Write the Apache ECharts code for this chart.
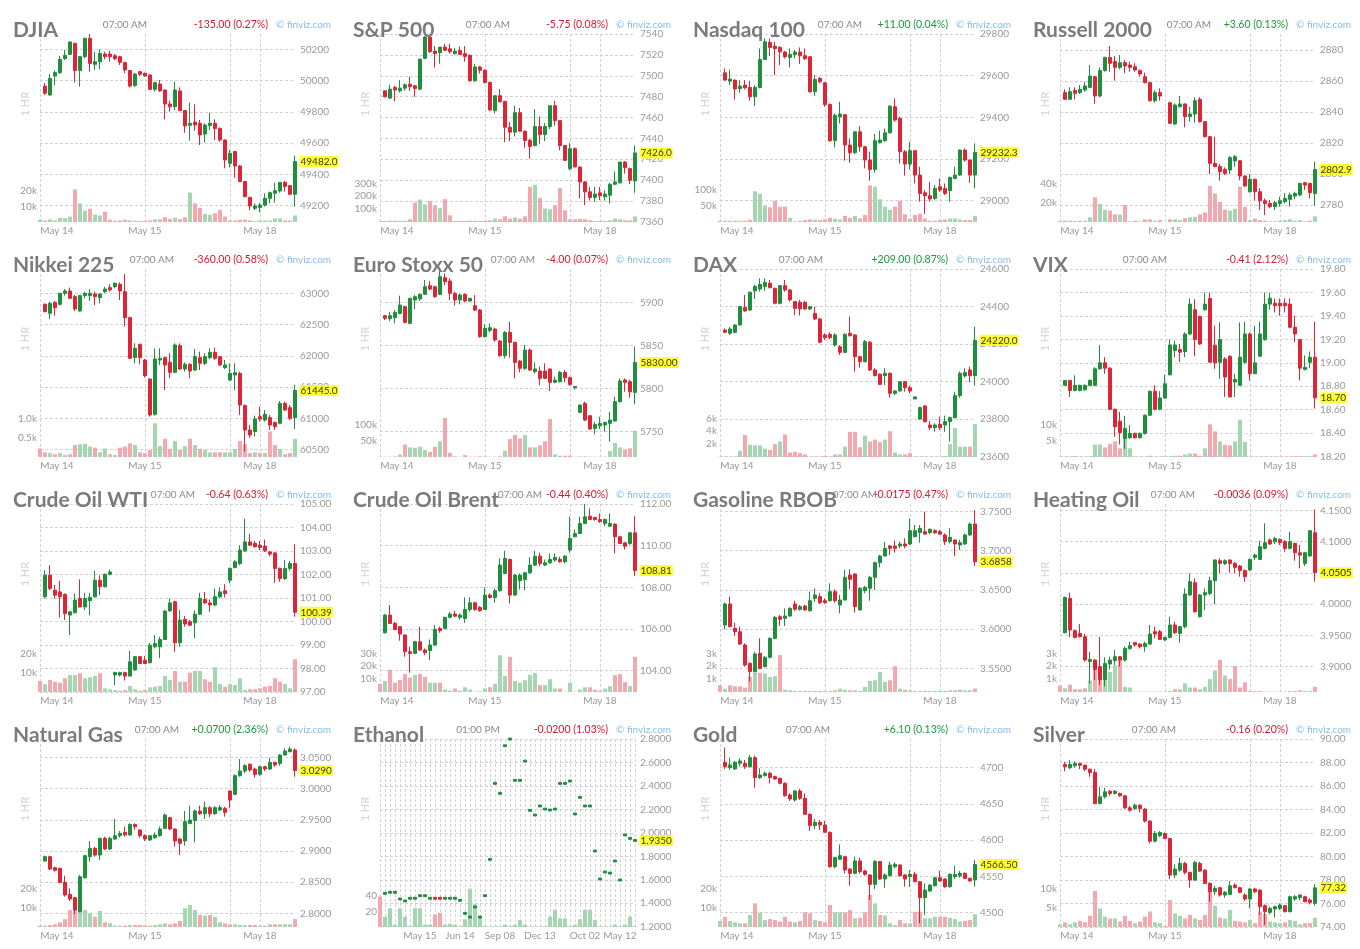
<!DOCTYPE html>
<html><head><meta charset="utf-8">
<script src="https://cdn.jsdelivr.net/npm/echarts@6.0.0/dist/echarts.min.js"></script>
<style>html,body{margin:0;padding:0;background:#fff}#c{width:1360px;height:949px}</style>
</head><body><div id="c"></div>
<script>
// ---------- x-axis tick labels ----------
const hourLabels = ['May 14', 'May 15', 'May 18'];
const hourLabelIdx = [0, 21, 44];
const hourGridIdx = [0, 21, 38, 44];
const ethLabels = ['May 15', 'Jun 14', 'Sep 08', 'Dec 13', 'Oct 02', 'May 12'];
const ethLabelIdx = [8, 16, 24, 32, 41, 48];

// ---------- candles: [open, close, low, high] ----------
const djiaCandles = [
[49965,49919,49908,49983],[49908,50014,49902,50042],[50029,50051,49972,50064],[50051,50136,50042,50157],[50140,50162,50132,50196],
[50168,50247,50164,50249],[50238,50064,49987,50243],[50064,50153,49961,50157],[50153,50270,50142,50275],[50270,50110,50057,50298],
[50104,50121,50068,50185],[50121,50174,50072,50200],[50170,50153,50136,50185],[50170,50153,50121,50191],[50159,50140,50132,50170],
[50153,50117,50100,50159],[50115,50068,50047,50121],[50064,49965,49957,50068],[49968,50042,49961,50047],[50057,50040,50029,50064],
[50047,50029,50025,50051],[50036,49944,49940,50040],[49944,49987,49929,49993],[49978,49934,49929,50004],[49940,49850,49752,49944],
[49850,49833,49801,49872],[49833,49940,49812,49993],[49934,49808,49808,49957],[49808,49710,49667,49812],[49714,49727,49616,49859],
[49735,49716,49680,49848],[49727,49652,49588,49748],[49658,49716,49603,49727],[49712,49727,49684,49795],[49727,49693,49620,49752],
[49695,49620,49609,49699],[49620,49492,49439,49624],[49471,49535,49445,49556],[49546,49454,49379,49546],[49454,49354,49354,49460],
[49354,49258,49253,49358],[49253,49198,49172,49258],[49183,49198,49172,49215],[49189,49204,49157,49219],[49204,49247,49194,49279],
[49247,49283,49215,49290],[49279,49296,49219,49347],[49294,49349,49283,49349],[49349,49322,49290,49358],[49328,49273,49268,49332],
[49273,49482,49194,49520]];
const djiaVolume = [1.5,1.0,1.7,1.0,2.7,2.5,3.5,21,12,7.3,8.5,4.8,4.2,6.7,1.5,0.8,1.0,1.5,1.0,0.8,0.6,0.8,1.0,1.7,1.7,3.1,1.9,2.7,1.9,3.1,19,12,9.2,5.2,4.8,5.6,7.9,3.5,1.0,1.0,1.5,1.5,1.0,0.6,1.0,1.0,1.0,2.3,2.3,1.0,1.0,4.2];

const spxCandles = [
[7485.6,7479.9,7479.3,7486.0],[7478.6,7487.2,7477.7,7491.4],[7488.8,7486.3,7475.5,7490.4],[7485.6,7488.2,7484.0,7495.8],[7488.2,7491.4,7485.6,7492.6],
[7492.0,7489.5,7485.6,7499.0],[7490.4,7487.9,7479.9,7491.4],[7487.2,7515.9,7486.3,7516.8],[7516.8,7537.2,7515.9,7538.0],[7537.2,7523.2,7522.2,7539.7],
[7523.8,7521.3,7507.9,7528.6],[7522.2,7527.6,7511.7,7527.6],[7527.6,7524.5,7523.8,7530.8],[7526.0,7523.2,7521.3,7530.8],[7521.3,7523.8,7520.6,7527.0],
[7524.5,7520.6,7520.0,7528.0],[7521.3,7518.7,7513.6,7528.6],[7519.7,7495.2,7494.5,7520.6],[7495.2,7508.5,7494.5,7511.7],[7508.5,7505.4,7502.2,7509.5],
[7505.4,7493.6,7492.6,7506.3],[7493.6,7467.2,7466.5,7494.5],[7466.5,7480.9,7464.0,7481.5],[7480.9,7475.1,7474.5,7487.2],[7475.5,7450.6,7436.3,7476.0],
[7450.6,7445.9,7437.3,7455.4],[7445.9,7464.6,7441.7,7471.3],[7464.6,7446.8,7446.8,7469.1],[7446.8,7437.9,7430.9,7447.5],[7437.9,7432.2,7420.4,7439.5],
[7433.1,7451.3,7432.2,7468.1],[7451.3,7443.6,7434.7,7460.8],[7443.6,7451.3,7437.3,7454.5],[7451.3,7471.3,7449.0,7471.3],[7471.3,7457.0,7452.2,7476.0],
[7457.0,7433.1,7428.4,7457.6],[7433.1,7418.8,7418.8,7433.8],[7410.9,7430.0,7409.3,7435.4],[7430.0,7412.4,7412.4,7431.5],[7412.4,7398.1,7382.2,7413.0],
[7398.1,7388.6,7375.9,7399.0],[7388.6,7383.2,7380.0,7393.3],[7383.2,7386.4,7379.0,7393.3],[7387.6,7384.8,7380.6,7393.3],[7383.8,7386.4,7380.0,7390.0],
[7385.4,7395.9,7377.4,7397.2],[7395.9,7398.1,7394.9,7408.3],[7397.2,7417.2,7396.5,7417.2],[7417.2,7411.8,7406.1,7418.2],[7410.9,7399.7,7395.9,7411.8],
[7399.1,7426.0,7387.6,7433.1]];
const spxVolume = [5,8,10,10,10,10,21,151,174,138,164,130,107,177,52,8,8,8,10,10,8,8,13,26,21,44,26,36,26,44,273,289,185,104,99,130,263,91,21,21,24,21,13,8,8,8,13,26,21,13,13,44];

const ndxCandles = [
[29614,29579,29576,29635],[29574,29584,29555,29630],[29579,29536,29486,29582],[29538,29550,29518,29579],[29555,29542,29534,29579],
[29544,29499,29480,29576],[29499,29544,29454,29555],[29544,29678,29539,29731],[29678,29763,29678,29779],[29760,29736,29694,29779],
[29742,29730,29603,29763],[29736,29715,29651,29742],[29714,29691,29683,29718],[29688,29702,29640,29731],[29701,29714,29683,29723],
[29714,29696,29656,29736],[29696,29682,29675,29731],[29691,29523,29518,29694],[29523,29582,29502,29603],[29587,29571,29563,29595],
[29566,29462,29451,29571],[29462,29288,29283,29467],[29288,29410,29256,29419],[29403,29416,29371,29475],[29413,29267,29192,29416],
[29267,29230,29182,29299],[29230,29331,29224,29331],[29331,29259,29235,29358],[29259,29195,29155,29262],[29195,29150,29096,29235],
[29150,29288,29134,29320],[29278,29291,29275,29336],[29288,29326,29283,29347],[29326,29454,29323,29459],[29451,29387,29379,29491],
[29395,29235,29179,29403],[29235,29176,29120,29243],[29176,29240,29150,29283],[29240,29123,29083,29243],[29123,29035,28995,29163],
[29038,29024,28936,29051],[29024,29008,28995,29091],[29011,29059,29003,29075],[29067,29051,29043,29107],[29059,29035,29027,29083],
[29048,29112,28995,29115],[29107,29123,29102,29163],[29123,29243,29118,29246],[29243,29195,29187,29251],[29195,29123,29086,29198],
[29123,29232.3,29059,29275]];
const ndxVolume = [4,4,4,4,4,4,7,96,88,52,46,66,48,48,13,2,4,6,8,7,6,8,13,10,8,19,13,19,11,22,114,110,71,48,38,48,66,24,11,22,26,11,4,4,6,8,11,11,8,6,6,19];

const rutCandles = [
[2852.5,2848.2,2847.8,2854.6],[2848.2,2853.1,2847.8,2855.9],[2853.8,2852.1,2848.2,2855.9],[2852.5,2854.6,2851.6,2857.4],[2854.2,2856.8,2853.1,2859.6],
[2855.9,2863.2,2855.3,2870.3],[2862.8,2850.3,2845.2,2863.2],[2850.3,2866.7,2849.5,2868.8],[2866.7,2875.1,2866.0,2875.7],[2875.1,2871.4,2866.0,2882.6],
[2872.5,2868.8,2860.2,2876.1],[2868.8,2871.8,2867.5,2876.8],[2871.8,2869.7,2865.0,2873.5],[2870.3,2868.8,2866.0,2872.5],[2869.2,2867.1,2866.0,2871.4],
[2866.7,2864.5,2862.8,2867.5],[2862.8,2858.9,2858.5,2865.4],[2858.9,2847.3,2846.7,2859.6],[2847.3,2852.5,2846.0,2854.2],[2852.5,2850.3,2847.3,2855.3],
null,[2846.0,2832.7,2832.3,2846.7],[2832.3,2844.5,2831.6,2845.6],[2843.4,2845.2,2843.0,2850.3],[2845.2,2837.0,2830.1,2845.6],
[2837.0,2838.7,2833.8,2843.4],[2838.7,2847.3,2833.3,2849.5],[2848.2,2833.8,2833.1,2849.5],[2833.8,2824.1,2823.7,2834.2],[2824.1,2806.9,2800.0,2824.5],
[2806.9,2804.8,2804.3,2824.1],[2804.8,2801.5,2795.7,2806.5],[2803.0,2800.4,2799.4,2804.3],[2802.6,2810.6,2800.0,2811.6],[2808.5,2811.2,2804.8,2812.3],
[2808.6,2798.7,2796.0,2809.0],[2798.7,2792.3,2791.9,2799.4],[2788.6,2796.6,2788.0,2800.0],[2796.6,2788.6,2782.8,2797.2],[2788.6,2782.8,2776.8,2790.8],
[2782.8,2781.1,2773.6,2784.3],[2781.1,2779.0,2777.9,2783.3],[2779.0,2781.5,2776.8,2782.8],[2781.1,2782.8,2779.0,2785.4],[2782.2,2784.3,2781.1,2787.6],
[2783.7,2786.5,2779.0,2788.0],[2785.8,2787.5,2783.7,2788.6],[2786.5,2794.0,2785.8,2794.4],[2794.4,2792.9,2789.7,2795.0],[2794.0,2788.0,2784.3,2794.4],
[2787.5,2802.9,2779.4,2808.0]];
const rutVolume = [1,1.4,1.4,1,1.4,1.4,5,26,19,13,12,8,8,18,0.7,1.4,0.7,2.8,2.8,1.4,2,0,2.8,2.8,2,4,5,5.5,8,10,38,30,21,13,12,14,37,16,2,3.4,2,1.4,0.7,0.7,1.4,2,2.8,1.4,2,0.7,1.4,6];

const nikkeiCandles = [
[62824,62707,62696,62840],[62680,62840,62589,62867],[62856,62771,62643,62877],[62824,63000,62803,63011],[63000,63037,62963,63069],
[63037,62920,62909,63091],[62947,62749,62717,62973],[62717,62963,62707,62973],[62963,63000,62920,63027],[62963,63000,62877,63069],
[62989,62947,62813,63027],[62931,62989,62840,63000],[63027,63069,63000,63107],[63091,63053,63027,63144],[63107,63160,63080,63176],
[63144,63037,62893,63176],[63027,62611,62467,63309],[62611,61960,61949,62627],[61971,62120,61880,62200],[62184,61971,61864,62195],
[61933,61683,61651,61949],[61629,61053,61027,61640],[61064,61949,61043,62120],[61933,61960,61853,62120],[61971,61853,61453,61987],
[61896,61736,61640,62040],[61736,62173,61720,62200],[62163,61789,61773,62200],[61789,61864,61747,61896],[61864,61757,61640,61880],
[61773,61987,61757,62109],[61971,61880,61773,62067],[61880,61987,61853,62040],[61971,62056,61949,62120],[62056,61960,61933,62131],
[61987,61853,61843,61997],[61811,61853,61789,61933],[61613,61720,61597,61880],[61693,61731,61453,61880],[61720,61213,61053,61747],
[61203,60813,60467,61224],[60813,60733,60691,60893],[60787,60989,60707,61043],[61027,60989,60947,61187],[60973,61064,60947,61133],
[61011,60893,60813,61053],[60936,60867,60813,60947],[60920,61240,60904,61277],[61240,61133,61117,61267],[61171,61000,60973,61213],
[61011,61445,60829,61533]];
const nikkeiVolume = [0.22,0.12,0.10,0.07,0.10,0.05,0.07,0.31,0.33,0.34,0.27,0.24,0.12,0.22,0.07,0.05,0.24,0.27,0.35,0.31,0.12,0.10,0.18,0.87,0.28,0.47,0.21,0.41,0.18,0.28,0.47,0.31,0.21,0.18,0.12,0.12,0.12,0.12,0.12,0.21,0.41,0.33,0.10,0.12,0.10,0.10,0.66,0.31,0.21,0.07,0.10,0.47];

const stoxxCandles = [
[5884.5,5881.4,5879.5,5885.3],[5881.0,5884.5,5878.3,5889.1],[5882.2,5888.4,5875.6,5891.1],[5887.2,5896.9,5886.0,5907.8],[5895.0,5876.7,5875.6,5896.1],
[5875.6,5904.7,5874.4,5905.4],[5902.7,5906.6,5892.2,5908.5],[5903.9,5909.3,5901.6,5910.5],[5909.3,5918.2,5908.5,5926.0],[5919.4,5915.5,5914.3,5924.8],
[5918.2,5906.6,5905.4,5919.4],[5909.3,5929.8,5908.5,5937.6],[5928.7,5924.0,5920.2,5933.7],[5924.8,5910.5,5902.7,5927.9],[5910.5,5902.7,5896.1,5912.4],
[5902.7,5908.5,5897.7,5910.5],[5909.3,5901.6,5900.0,5910.5],[5901.6,5904.7,5900.8,5905.4],[5896.1,5891.1,5889.9,5908.5],[5891.1,5860.1,5858.9,5892.2],
[5860.1,5869.8,5858.9,5874.4],[5867.4,5870.5,5865.1,5875.6],[5869.0,5856.2,5854.3,5870.5],[5855.0,5838.0,5836.8,5856.2],[5838.0,5865.1,5834.9,5866.7],
[5865.1,5853.5,5835.7,5877.5],[5853.5,5830.2,5811.6,5854.3],[5831.8,5823.3,5818.6,5833.0],[5823.3,5844.6,5821.3,5850.4],[5844.6,5821.3,5820.2,5846.5],
[5819.4,5822.5,5817.4,5830.2],[5820.2,5811.6,5803.9,5825.2],[5820.2,5811.6,5810.9,5829.1],[5822.5,5807.0,5796.9,5823.3],[5807.0,5809.7,5805.8,5813.6],
[5807.7,5818.6,5807.0,5820.2],[5818.6,5812.4,5807.0,5821.3],[5812.4,5804.6,5803.1,5813.6],[5800.8,5802.3,5798.5,5802.3],[5772.1,5780.6,5770.9,5781.4],
[5782.6,5763.2,5762.0,5784.5],[5768.2,5752.7,5751.5,5769.0],[5753.5,5758.1,5746.5,5761.2],[5756.6,5759.3,5752.7,5767.0],[5757.4,5760.5,5749.6,5761.2],
[5759.3,5763.2,5738.0,5772.9],[5762.0,5784.5,5761.2,5790.3],[5784.5,5808.5,5783.7,5811.6],[5809.7,5807.0,5796.1,5811.6],[5807.7,5796.1,5789.1,5809.7],
[5795.3,5830.0,5781.4,5848.5]];
const stoxxVolume = [1,1,1,2,8,39,30,29,32,22,16,32,49,122,13,2,1,6,1,1,2,2,1,1,2,19,56,69,58,69,30,30,36,49,119,8,4,4,4,1,2,2,1,1,1,1,19,44,30,24,27,82];

const daxCandles = [
[24275,24263,24258,24284],[24258,24281,24249,24293],[24263,24302,24258,24306],[24302,24400,24299,24405],[24395,24377,24373,24462],
[24382,24477,24377,24480],[24484,24507,24441,24516],[24494,24519,24480,24551],[24507,24530,24484,24551],[24525,24501,24498,24542],
[24498,24418,24412,24501],[24418,24512,24412,24516],[24512,24489,24480,24542],[24489,24436,24427,24494],[24427,24391,24355,24430],
[24423,24388,24352,24436],[24423,24388,24382,24430],[24388,24400,24382,24405],[24364,24334,24329,24400],[24334,24210,24204,24341],
[24249,24234,24222,24258],[24252,24234,24227,24263],[24195,24249,24186,24258],[24186,24156,24142,24195],[24156,24252,24151,24258],
[24258,24245,24240,24347],[24249,24133,24053,24252],[24133,24106,24074,24138],[24106,24213,24103,24222],[24210,24062,24056,24217],
[24062,24032,24026,24071],[24039,23985,23982,24044],[24032,24044,23982,24071],[24044,23937,23914,24049],[23937,23950,23928,23955],
[23950,23999,23946,24003],[23999,23967,23946,24003],[23967,23950,23937,23978],[23907,23918,23907,23918],[23800,23861,23795,23866],
[23870,23786,23782,23875],[23768,23754,23741,23789],[23754,23768,23732,23777],[23772,23754,23741,23813],[23768,23786,23732,23818],
[23786,23807,23679,23813],[23807,23925,23804,23946],[23925,24044,23914,24053],[24030,24048,24021,24071],[24062,24032,23996,24080],
[24032,24220,23978,24293]];
const daxVolume = [0.05,0.05,0.05,0.05,0.96,3.4,1.9,1.8,1.8,1.3,1.1,2.0,2.4,3.5,0.7,0.8,0.6,0.4,0.05,0.05,0.05,0.15,0.05,0.4,0.4,1.6,3.9,3.9,1.5,3.3,2.4,2.7,2.3,2.7,4.0,0.7,0.4,0.4,0.6,0.05,0.05,0.05,0.05,0.05,0.05,0.15,2.0,4.5,1.6,1.6,1.6,5.1];

const vixCandles = [
[18.807,18.849,18.807,18.849],[18.849,18.764,18.708,18.849],[18.764,18.807,18.756,18.892],[18.764,18.807,18.756,18.812],[18.770,18.807,18.760,18.815],
[18.807,18.849,18.801,18.858],[18.807,18.948,18.801,18.962],[18.948,18.999,18.943,19.152],[18.999,18.954,18.906,19.048],[18.954,18.603,18.594,18.962],
[18.603,18.453,18.368,18.608],[18.501,18.404,18.302,18.580],[18.353,18.438,18.263,18.546],[18.359,18.396,18.348,18.467],[18.396,18.359,18.353,18.404],
[18.359,18.396,18.353,18.404],[18.396,18.552,18.387,18.557],[18.552,18.756,18.546,18.764],[18.756,18.603,18.594,18.807],[18.603,18.699,18.594,18.756],
[18.699,18.821,18.693,18.897],[18.897,19.152,18.892,19.198],[19.104,19.152,19.048,19.189],[19.113,19.090,19.005,19.161],[19.096,19.246,19.048,19.260],
[19.246,19.501,19.237,19.549],[19.453,19.198,19.056,19.543],[19.396,19.161,19.152,19.402],[19.453,19.501,19.444,19.600],[19.549,19.005,18.999,19.600],
[19.150,18.999,18.948,19.317],[19.005,19.198,18.863,19.345],[19.033,18.878,18.708,19.048],[19.056,18.708,18.708,19.062],[18.835,18.858,18.708,18.906],
[18.807,19.048,18.807,19.345],[19.005,19.246,18.991,19.351],[19.246,18.906,18.849,19.260],[18.906,18.999,18.906,19.317],[19.056,19.246,19.048,19.351],
[19.198,19.501,19.189,19.600],[19.501,19.552,19.453,19.600],[19.509,19.487,19.430,19.549],[19.509,19.487,19.402,19.549],[19.509,19.487,19.430,19.549],
[19.501,19.303,19.294,19.549],[19.303,19.246,19.175,19.402],[19.198,18.954,18.849,19.204],[18.943,18.962,18.934,19.062],[19.005,19.048,18.954,19.096],
[19.048,18.700,18.608,19.351]];
const vixVolume = [0.1,0.1,0.1,0.3,0.1,0.1,0.2,3.9,3.9,3.0,4.1,4.9,2.7,5.8,2.7,0.1,0.1,0.1,0.4,0.1,0.1,0.2,0.2,0.4,0.4,0.8,1.1,1.1,0.4,2.7,10.2,8.0,4.9,3.8,3.6,4.9,11.6,4.7,0.1,0.1,0.1,0.1,0.1,0.1,0.1,0.1,0.1,0.2,0.2,0.2,0.2,0.8];

const wtiCandles = [
[101.05,101.97,100.98,102.18],[101.97,101.40,101.33,102.40],[101.33,101.12,100.98,101.55],[101.26,101.05,100.17,101.73],[101.16,100.34,100.06,101.19],
[100.27,100.41,99.42,100.45],[100.37,100.91,100.34,101.19],[100.98,100.62,100.60,101.79],[100.62,100.98,100.48,101.22],[100.88,101.02,100.27,101.22],
[101.05,101.76,101.02,102.16],[101.76,101.48,101.12,101.97],[101.48,102.01,101.45,102.04],[102.01,102.11,101.97,102.21],[97.72,97.82,97.29,97.86],
[97.72,97.82,97.65,97.86],[97.82,97.67,97.48,97.86],[97.67,98.28,97.65,98.75],[97.93,98.50,97.90,98.52],[98.50,98.21,98.18,98.52],
[98.35,98.21,98.18,98.52],[98.24,98.99,98.21,99.09],[98.92,99.06,98.85,99.42],[98.92,99.23,98.43,99.35],[99.23,100.44,99.21,100.48],
[100.45,100.79,100.41,100.98],[100.84,99.09,98.71,100.88],[99.09,100.06,98.92,100.48],[100.09,99.89,99.77,100.23],[99.99,99.84,99.80,100.06],
[99.94,100.31,99.28,100.48],[100.31,100.98,100.27,101.22],[100.94,100.79,100.74,101.26],[100.79,100.70,100.41,100.94],[100.70,101.05,100.65,101.40],
[101.05,101.26,100.98,101.45],[101.31,101.19,101.02,101.59],[101.76,102.26,101.62,102.30],[102.30,102.54,102.26,102.61],[102.47,103.04,102.40,103.25],
[103.01,103.39,102.96,104.38],[103.39,103.25,103.21,103.74],[103.32,103.18,103.15,103.43],[103.25,103.15,103.04,103.43],[103.21,103.01,102.96,103.49],
[102.96,102.87,102.78,103.01],[102.92,102.26,101.65,102.96],[102.26,101.83,101.69,102.30],[101.83,102.26,101.76,102.61],[102.26,102.47,102.18,102.58],
[102.47,100.39,100.20,103.29]];
const wtiVolume = [5.7,4.1,6.2,5.3,4.8,7.1,8.8,8.8,9.7,7.1,7.6,8.3,9.7,1.9,1.4,1.0,0.7,1.0,3.1,1.4,0.7,1.0,2.4,2.8,3.1,8.3,6.2,10.9,5.3,5.3,10.0,10.9,10.9,6.6,5.3,12.8,4.1,2.8,4.1,3.6,7.1,1.0,1.4,1.4,1.9,2.8,3.1,7.1,5.3,4.1,1.9,16.9];

const brentCandles = [
[105.82,106.67,105.78,106.72],[106.67,106.27,106.24,107.15],[106.27,105.98,105.95,106.35],[106.11,105.76,105.44,106.14],[105.71,104.91,104.67,105.76],
[104.91,104.83,103.90,105.15],[104.83,105.39,104.80,105.44],[105.39,104.99,104.96,106.11],[104.99,104.86,104.75,105.07],[104.96,105.23,104.51,105.50],
[105.23,105.98,105.18,106.19],[106.03,105.92,105.82,106.11],[106.03,106.56,105.98,106.59],[106.56,106.72,106.51,106.83],[106.72,106.62,106.56,106.88],
[106.56,106.67,106.46,106.75],[106.51,106.94,106.30,107.52],[106.94,107.26,106.83,107.52],[107.26,106.94,106.88,107.31],[107.04,106.88,106.83,107.10],
[106.94,107.63,106.91,108.00],[107.63,107.52,107.47,107.71],[107.52,107.84,107.26,107.95],[107.84,109.07,107.79,109.39],[108.67,109.39,108.64,109.76],
[109.34,107.63,107.23,109.39],[107.63,108.59,107.58,108.64],[108.32,108.59,107.90,108.67],[108.38,108.70,107.87,108.75],[108.70,109.07,108.64,109.44],
[109.07,109.50,109.02,109.76],[109.50,109.15,109.02,109.66],[109.07,109.18,109.02,109.34],[109.18,109.34,109.12,109.63],[109.31,109.44,109.23,109.63],
[109.34,109.23,109.18,109.47],[109.23,109.50,109.15,109.55],[109.79,110.35,109.66,111.39],[110.43,110.59,110.40,110.78],[110.59,111.07,110.56,111.39],
[111.07,111.39,111.04,112.00],[111.42,111.26,111.23,111.79],[111.36,111.26,111.20,111.39],[111.26,111.15,111.10,111.55],[111.07,111.26,110.94,111.31],
[110.94,111.07,110.91,111.55],[111.04,110.43,109.63,111.07],[110.43,110.11,110.08,110.46],[110.14,109.98,109.82,110.19],[110.11,110.62,110.03,110.67],
[110.62,108.81,108.54,111.42]];
const brentVolume = [6.4,8.5,17.3,7.2,9.3,13.9,11.2,13.3,13.9,11.7,7.2,7.2,7.2,1.9,1.1,2.7,1.1,3.7,1.9,0.3,0.5,2.7,3.7,6.4,28.5,12.5,27.2,8.5,7.2,9.1,13.3,14.7,5.3,5.3,9.9,2.7,2.7,0.3,7.2,0.3,1.9,3.7,3.7,1.9,1.1,2.7,4.5,13.0,13.9,7.7,4.5,27.2];

const rbobCandles = [
[3.6052,3.6320,3.5997,3.6337],[3.6320,3.6031,3.6023,3.6414],[3.6010,3.5967,3.5912,3.6082],[3.5967,3.5810,3.5797,3.6031],[3.5797,3.5542,3.5521,3.5819],
[3.5564,3.5457,3.5330,3.5572],[3.5457,3.5683,3.5445,3.5712],[3.5691,3.5500,3.5487,3.5882],[3.5521,3.5640,3.5512,3.5657],[3.5640,3.5882,3.5627,3.5895],
[3.5882,3.6150,3.5869,3.6167],[3.6159,3.6125,3.6040,3.6180],[3.6137,3.6167,3.6040,3.6265],[3.6167,3.6265,3.6159,3.6277],[3.6320,3.6252,3.6235,3.6362],
[3.6252,3.6286,3.6235,3.6307],[3.6295,3.6244,3.6235,3.6307],[3.6235,3.6362,3.6222,3.6477],[3.6392,3.6435,3.6350,3.6520],[3.6414,3.6337,3.6320,3.6456],
[3.6362,3.6337,3.6320,3.6392],[3.6362,3.6477,3.6350,3.6584],[3.6477,3.6362,3.6337,3.6507],[3.6307,3.6371,3.6201,3.6435],[3.6371,3.6660,3.6362,3.6753],
[3.6690,3.6635,3.6507,3.6762],[3.6703,3.6286,3.6210,3.6711],[3.6244,3.6520,3.6235,3.6533],[3.6490,3.6533,3.6456,3.6550],[3.6520,3.6660,3.6362,3.6677],
[3.6660,3.6847,3.6499,3.6860],[3.6847,3.6932,3.6788,3.6945],[3.6932,3.7030,3.6924,3.7115],[3.7060,3.7030,3.6945,3.7072],[3.7060,3.7030,3.6975,3.7128],
[3.7060,3.7085,3.7030,3.7115],[3.7085,3.7060,3.7030,3.7157],[3.7085,3.7255,3.7072,3.7412],[3.7179,3.7255,3.7170,3.7327],[3.7230,3.7285,3.7102,3.7327],
[3.7242,3.7212,3.7200,3.7497],[3.7230,3.7272,3.7212,3.7285],[3.7255,3.7230,3.7212,3.7272],[3.7242,3.7212,3.7200,3.7264],[3.7200,3.7115,3.7072,3.7221],
[3.7115,3.7170,3.7094,3.7285],[3.7136,3.7085,3.6932,3.7145],[3.7072,3.7102,3.7009,3.7136],[3.7085,3.7200,3.7072,3.7221],[3.7200,3.7340,3.7187,3.7357],
[3.7340,3.6858,3.6805,3.7519]];
const rbobVolume = [0.52,0.26,0.52,0.44,0.44,0.34,1.17,1.48,1.48,1.43,1.17,1.22,2.86,0.18,0.13,0.08,0.08,0.08,0.08,0.08,0.08,0.08,0.08,0.13,0.26,0.18,0.13,0.13,0.08,0.39,0.86,0.91,1.56,0.78,0.91,2.0,0.26,0.18,0.13,0.08,0.08,0.08,0.08,0.08,0.08,0.08,0.13,0.13,0.18,0.13,0.13,0.26];

const hoCandles = [
[3.9544,4.0109,3.9533,4.0120],[4.0093,3.9587,3.9469,4.0184],[3.9576,3.9469,3.9453,3.9597],[3.9533,3.9480,3.9469,3.9683],[3.9480,3.9107,3.9080,3.9523],
[3.9080,3.9117,3.8733,3.9240],[3.9107,3.8957,3.8787,3.9117],[3.9000,3.8787,3.8707,3.9480],[3.8797,3.9053,3.8680,3.9149],[3.9043,3.9107,3.8957,3.9160],
[3.9096,3.9160,3.9027,3.9267],[3.9160,3.9107,3.9000,3.9171],[3.9107,3.9293,3.9080,3.9320],[3.9293,3.9336,3.9267,3.9400],[3.9384,3.9347,3.9320,3.9400],
[3.9363,3.9320,3.9293,3.9373],[3.9320,3.9373,3.9240,3.9400],[3.9363,3.9523,3.9347,3.9667],[3.9560,3.9523,3.9453,3.9640],[3.9560,3.9437,3.9427,3.9587],
[3.9427,3.9469,3.9416,3.9480],[3.9469,3.9667,3.9453,3.9800],[3.9667,3.9544,3.9523,3.9720],[3.9533,3.9640,3.9384,3.9651],[3.9640,4.0163,3.9613,4.0253],
[4.0147,4.0360,4.0131,4.0493],[4.0344,3.9880,3.9864,4.0413],[3.9800,4.0147,3.9789,4.0163],[4.0147,4.0184,3.9907,4.0253],[4.0173,4.0376,4.0147,4.0440],
[4.0376,4.0707,4.0003,4.0717],[4.0696,4.0653,4.0493,4.0733],[4.0653,4.0696,4.0627,4.0717],[4.0707,4.0653,4.0504,4.0717],[4.0653,4.0589,4.0493,4.0680],
[4.0611,4.0536,4.0440,4.0627],[4.0536,4.0440,4.0360,4.0557],[4.0547,4.0717,4.0536,4.0733],[4.0749,4.0787,4.0707,4.0803],[4.0717,4.0920,4.0707,4.1016],
[4.0893,4.0984,4.0877,4.1293],[4.1027,4.0963,4.0947,4.1053],[4.1000,4.1053,4.0963,4.1080],[4.1037,4.0984,4.0947,4.1053],[4.1000,4.0893,4.0840,4.1027],
[4.0893,4.1000,4.0877,4.1160],[4.0973,4.0824,4.0696,4.0984],[4.0824,4.0787,4.0573,4.0947],[4.0653,4.0824,4.0611,4.0840],[4.0771,4.1176,4.0760,4.1187],
[4.1144,4.0505,4.0360,4.1517]];
const hoVolume = [0.48,0.29,0.56,0.21,0.21,0.29,0.88,2.2,0.88,1.28,1.55,2.08,2.48,0.4,0.35,0.03,0.03,0.03,0.03,0.03,0.03,0.03,0.08,0.21,0.21,0.67,0.35,0.35,0.21,0.4,1.0,1.68,2.48,1.28,1.0,2.0,0.35,0.75,0.08,0.08,0.08,0.03,0.03,0.03,0.03,0.03,0.08,0.08,0.13,0.08,0.08,0.4];

const ngCandles = [
[2.8839,2.8909,2.8829,2.8925],[2.8909,2.8711,2.8695,2.8925],[2.8732,2.8690,2.8668,2.8748],[2.8722,2.8497,2.8481,2.8732],[2.8497,2.8295,2.8268,2.8604],
[2.8305,2.8230,2.8198,2.8401],[2.8252,2.8054,2.7985,2.8268],[2.8027,2.8588,2.8017,2.8615],[2.8572,2.8925,2.8551,2.8935],[2.8909,2.9042,2.8829,2.9160],
[2.9042,2.8935,2.8909,2.9069],[2.8935,2.9202,2.8855,2.9213],[2.9202,2.9032,2.9016,2.9229],[2.9032,2.9202,2.9016,2.9229],[2.9192,2.9245,2.9176,2.9512],
[2.9245,2.9282,2.9213,2.9320],[2.9298,2.9256,2.9229,2.9389],[2.9256,2.9426,2.9245,2.9443],[2.9426,2.9389,2.9336,2.9443],[2.9336,2.9245,2.9213,2.9352],
[2.9245,2.9192,2.9160,2.9266],[2.9176,2.9245,2.9160,2.9256],[2.9213,2.9256,2.9192,2.9298],[2.9245,2.9352,2.9229,2.9389],[2.9362,2.9576,2.9352,2.9603],
[2.9534,2.9352,2.9336,2.9550],[2.9352,2.9160,2.9069,2.9362],[2.9192,2.9122,2.8935,2.9213],[2.9160,2.9469,2.9085,2.9640],[2.9442,2.9496,2.9426,2.9726],
[2.9490,2.9640,2.9138,2.9667],[2.9640,2.9597,2.9576,2.9726],[2.9597,2.9694,2.9512,2.9790],[2.9694,2.9597,2.9544,2.9720],[2.9597,2.9694,2.9576,2.9720],
[2.9656,2.9694,2.9640,2.9736],[2.9683,2.9619,2.9549,2.9710],[2.9960,2.9816,2.9683,2.9970],[2.9907,3.0206,2.9896,3.0228],[3.0206,3.0281,3.0190,3.0473],
[3.0281,3.0366,3.0244,3.0388],[3.0388,3.0297,3.0270,3.0404],[3.0313,3.0228,3.0174,3.0334],[3.0228,3.0350,3.0206,3.0366],[3.0350,3.0313,3.0281,3.0366],
[3.0313,3.0420,3.0297,3.0495],[3.0420,3.0377,3.0350,3.0430],[3.0404,3.0537,3.0366,3.0548],[3.0537,3.0601,3.0527,3.0644],[3.0591,3.0633,3.0580,3.0671],
[3.0617,3.0290,3.0190,3.0644]];
const ngVolume = [0.7,0.7,1.0,1.4,2.4,4.1,8.8,8.8,10.0,8.8,7.1,5.3,8.3,2.4,1.9,0.7,0.7,0.7,1.0,1.0,1.0,0.7,0.7,1.0,1.4,1.9,1.4,1.9,3.1,9.7,11.4,8.8,6.2,5.9,6.2,5.3,2.4,1.9,1.4,1.4,1.0,1.0,1.0,1.0,0.7,0.7,1.4,1.4,1.4,1.4,1.4,4.1];

const ethCandles = [
[1.476,1.492,1.476,1.492],[1.485,1.501,1.485,1.501],[1.485,1.501,1.485,1.501],[1.428,1.444,1.428,1.444],[1.411,1.427,1.411,1.427],
[1.434,1.450,1.434,1.450],[1.434,1.450,1.434,1.450],[1.456,1.472,1.456,1.472],[1.456,1.472,1.456,1.472],[1.434,1.450,1.434,1.450],
[1.450,1.434,1.434,1.450],[1.450,1.434,1.434,1.450],[1.434,1.450,1.434,1.450],[1.434,1.450,1.434,1.450],[1.434,1.450,1.434,1.450],
[1.417,1.433,1.417,1.433],[1.306,1.322,1.306,1.322],[1.274,1.290,1.274,1.290],[1.360,1.376,1.360,1.376],[1.274,1.290,1.274,1.290],
[1.456,1.472,1.456,1.472],[1.766,1.782,1.766,1.782],[2.414,2.430,2.414,2.430],[2.329,2.345,2.329,2.345],[2.735,2.751,2.735,2.751],
[2.792,2.808,2.792,2.808],[2.440,2.456,2.440,2.456],[2.440,2.456,2.440,2.456],[2.604,2.620,2.604,2.620],[2.184,2.200,2.184,2.200],
[2.144,2.160,2.144,2.160],[2.221,2.237,2.221,2.237],[2.195,2.211,2.195,2.211],[2.187,2.203,2.187,2.203],[2.195,2.211,2.195,2.211],
[2.414,2.430,2.414,2.430],[2.414,2.430,2.414,2.430],[2.434,2.450,2.434,2.450],[2.153,2.169,2.153,2.169],[2.295,2.311,2.295,2.311],
[2.221,2.237,2.221,2.237],[2.221,2.237,2.221,2.237],[1.837,1.853,1.837,1.853],[1.598,1.614,1.598,1.614],[1.658,1.674,1.658,1.674],
[1.649,1.665,1.649,1.665],[1.752,1.768,1.752,1.768],[1.590,1.606,1.590,1.606],[1.974,1.990,1.974,1.990],[1.945,1.961,1.945,1.961],
[1.927,1.943,1.927,1.943]];
const ethVolume = [39,13,24,3,24,13,1,24,24,3,3,16,18,3,4,3,0.5,10,49,29,13,1,0.5,0.5,0.5,3,1,3,9,3,0.5,0.5,0.5,0.5,13,22,11,11,1,3,10,22,22,9,0.5,0.5,0.5,3,0.5,3,13,1];

const goldCandles = [
[4707.4,4701.4,4698.2,4727.6],[4700.0,4703.7,4696.8,4713.8],[4698.2,4707.4,4696.8,4709.2],[4706.0,4709.2,4701.4,4712.9],[4706.0,4701.4,4698.2,4710.6],
[4701.4,4713.8,4700.0,4717.5],[4713.8,4686.2,4672.4,4716.6],[4686.2,4689.9,4684.4,4699.1],[4689.0,4692.2,4687.6,4694.5],[4692.2,4686.2,4678.4,4694.5],
[4687.6,4684.4,4683.0,4689.0],[4685.3,4678.4,4677.0,4686.2],[4678.4,4661.4,4660.0,4679.8],[4662.3,4656.8,4654.0,4664.6],[4655.4,4667.8,4653.1,4669.2],
[4667.8,4657.7,4655.4,4670.6],[4657.7,4635.6,4634.7,4664.6],[4635.6,4620.0,4612.6,4637.0],[4620.0,4624.6,4615.4,4629.2],[4624.6,4620.9,4614.0,4627.8],
[4620.9,4610.8,4610.8,4626.4],[4610.8,4563.4,4562.0,4611.7],[4563.4,4575.9,4561.1,4577.2],[4573.6,4578.6,4572.6,4594.2],[4577.2,4558.8,4554.2,4578.6],
[4560.2,4554.2,4537.2,4561.1],[4554.2,4571.3,4552.9,4577.2],[4571.3,4556.5,4554.2,4575.9],[4557.5,4552.9,4551.0,4558.8],[4552.0,4539.1,4517.5,4552.9],
[4539.1,4570.4,4532.6,4572.6],[4570.4,4546.4,4545.0,4571.3],[4546.4,4552.0,4534.4,4554.2],[4551.0,4565.7,4549.6,4570.4],[4563.4,4566.7,4561.1,4569.4],
[4565.7,4551.0,4549.6,4566.7],[4552.0,4546.4,4535.8,4552.9],[4549.6,4552.9,4535.8,4558.8],[4552.9,4542.7,4541.8,4556.5],[4542.7,4520.7,4485.3,4543.7],
[4520.7,4531.2,4496.8,4540.4],[4529.8,4538.1,4528.9,4539.0],[4537.2,4548.1,4535.8,4549.6],[4548.1,4543.7,4542.7,4557.5],[4546.4,4535.8,4534.4,4547.3],
[4535.8,4552.9,4534.4,4554.2],[4549.6,4552.9,4546.4,4564.8],[4551.0,4554.2,4548.3,4557.5],[4554.2,4547.3,4546.4,4555.6],[4547.3,4543.7,4542.7,4548.3],
[4545.0,4566.5,4535.8,4572.6]];
const goldVolume = [3.1,5.3,3.1,2.4,1.9,1.9,6.2,12.2,7.4,3.6,4.1,3.6,2.8,5.3,2.8,2.4,3.1,7.6,7.1,3.6,3.1,2.4,11.4,7.6,7.6,7.6,8.8,4.5,4.8,7.6,16.6,12.2,6.2,5.9,1.9,1.0,3.6,1.9,1.9,7.9,7.9,4.5,4.5,5.3,5.3,5.3,4.8,4.1,2.8,3.1,3.6,6.6];

const silverCandles = [
[87.83,87.63,87.26,88.06],[87.55,87.83,87.43,88.20],[87.72,87.91,87.55,88.11],[87.91,87.77,87.43,88.00],[87.77,87.43,87.26,87.83],
[87.43,87.15,86.78,87.49],[87.15,84.51,84.43,87.43],[84.51,85.08,84.43,85.93],[85.08,85.50,84.94,85.84],[85.56,85.36,85.16,85.65],
[85.36,85.56,85.28,85.65],[85.36,85.16,85.08,85.45],[85.16,84.14,84.03,85.22],[84.14,83.94,83.80,84.31],[84.09,84.37,83.94,84.51],
[84.37,84.09,83.74,84.43],[84.03,83.01,82.89,84.14],[83.01,81.30,81.11,83.09],[81.30,81.96,81.19,82.16],[81.76,82.04,81.67,82.16],
[81.96,81.53,81.47,82.04],[81.53,78.41,78.07,81.59],[78.41,78.92,78.13,79.32],[78.83,79.40,78.69,79.89],[79.40,78.64,78.47,79.55],
[78.64,77.99,77.33,78.69],[77.99,79.49,77.90,79.60],[79.40,78.75,78.69,79.55],[78.83,77.70,77.62,78.92],[77.70,76.99,76.14,77.79],
[76.99,77.28,76.71,77.50],[77.33,76.71,76.57,77.42],[76.71,76.94,76.48,77.05],[76.77,77.50,76.71,77.90],[77.56,77.33,77.28,77.70],
[77.33,76.94,76.85,77.42],[76.71,76.37,76.20,76.85],[76.37,77.22,75.57,77.33],[77.22,76.99,76.85,77.33],[77.13,75.72,75.01,77.22],
[75.80,75.29,74.16,75.91],[75.23,75.57,75.06,75.72],[75.52,75.72,74.78,75.80],[75.57,75.86,75.43,76.00],[75.80,75.29,75.23,75.86],
[75.29,76.57,75.23,76.65],[76.37,76.57,76.20,76.71],[76.48,76.71,76.28,76.77],[76.57,76.14,76.09,76.65],[76.28,76.09,75.91,76.43],
[76.00,77.32,75.80,77.62]];
const silverVolume = [0.7,1.2,0.7,1.2,1.6,1.2,2.9,9.3,4.8,2.7,2.2,2.2,1.4,2.9,1.6,1.0,1.4,2.7,4.0,1.2,1.0,0.3,7.0,3.5,2.9,2.2,3.1,2.2,1.8,3.1,11.3,5.5,2.4,2.2,4.4,1.6,1.4,1.2,1.8,1.0,3.8,3.4,1.4,1.2,1.0,1.2,1.8,1.6,0.7,1.0,1.0,2.4];

// ---------- panel headers / last prices ----------
const names = ['DJIA','S&P 500','Nasdaq 100','Russell 2000','Nikkei 225','Euro Stoxx 50','DAX','VIX','Crude Oil WTI','Crude Oil Brent','Gasoline RBOB','Heating Oil','Natural Gas','Ethanol','Gold','Silver'];
const times = ['07:00 AM','07:00 AM','07:00 AM','07:00 AM','07:00 AM','07:00 AM','07:00 AM','07:00 AM','07:00 AM','07:00 AM','07:00 AM','07:00 AM','07:00 AM','01:00 PM','07:00 AM','07:00 AM'];
const changes = ['-135.00 (0.27%)','-5.75 (0.08%)','+11.00 (0.04%)','+3.60 (0.13%)','-360.00 (0.58%)','-4.00 (0.07%)','+209.00 (0.87%)','-0.41 (2.12%)','-0.64 (0.63%)','-0.44 (0.40%)','-0.0175 (0.47%)','-0.0036 (0.09%)','+0.0700 (2.36%)','-0.0200 (1.03%)','+6.10 (0.13%)','-0.16 (0.20%)'];
const lastPrices = [49482, 7426, 29232.3, 2802.9, 61445, 5830, 24220, 18.70, 100.39, 108.81, 3.6858, 4.0505, 3.0290, 1.9350, 4566.5, 77.32];

const candleSets = [djiaCandles, spxCandles, ndxCandles, rutCandles, nikkeiCandles, stoxxCandles, daxCandles, vixCandles, wtiCandles, brentCandles, rbobCandles, hoCandles, ngCandles, ethCandles, goldCandles, silverCandles];
const volumeSets = [djiaVolume, spxVolume, ndxVolume, rutVolume, nikkeiVolume, stoxxVolume, daxVolume, vixVolume, wtiVolume, brentVolume, rbobVolume, hoVolume, ngVolume, ethVolume, goldVolume, silverVolume];

// ---------- layout / axis config (not data) ----------
const cfg = [
 {timeX:125, yMin:49095.6, yMax:50298,  step:200,  dec:0, ld:1, vMax:20,  vStep:10,  vH:31,   vDec:0, vU:'k', v0:true},
 {timeX:148, yMin:7359.6,  yMax:7540.2, step:20,   dec:0, ld:1, vMax:300, vStep:100, vH:38.7, vDec:0, vU:'k', v0:true},
 {timeX:160, yMin:28897.6, yMax:29800.5,step:200,  dec:0, ld:1, vMax:100, vStep:50,  vH:32,   vDec:0, vU:'k', v0:true},
 {timeX:169, yMin:2769.1,  yMax:2890.3, step:20,   dec:0, ld:1, vMax:40,  vStep:20,  vH:38,   vDec:0, vU:'k', v0:true},
 {timeX:152, yMin:60381.5, yMax:63389,  step:500,  dec:0, ld:1, vMax:1,   vStep:0.5, vH:38.7, vDec:1, vU:'k', v0:false},
 {timeX:173, yMin:5720.2,  yMax:5938.8, step:50,   dec:0, ld:2, vMax:100, vStep:50,  vH:32,   vDec:0, vU:'k', v0:true},
 {timeX:121, yMin:23597.2, yMax:24601,  step:200,  dec:0, ld:1, vMax:6,   vStep:2,   vH:38.7, vDec:0, vU:'k', v0:true},
 {timeX:125, yMin:18.1948, yMax:19.801, step:0.2,  dec:2, ld:2, vMax:10,  vStep:5,   vH:32,   vDec:0, vU:'k', v0:true},
 {timeX:173, yMin:96.993,  yMax:105.005,step:1,    dec:2, ld:2, vMax:20,  vStep:10,  vH:38.7, vDec:0, vU:'k', v0:false},
 {timeX:180, yMin:102.976, yMax:112.005,step:2,    dec:2, ld:2, vMax:30,  vStep:10,  vH:38.7, vDec:0, vU:'k', v0:false},
 {timeX:175, yMin:3.5198,  yMax:3.7595, step:0.05, dec:4, ld:4, vMax:3,   vStep:1,   vH:38.7, vDec:0, vU:'k', v0:false},
 {timeX:153, yMin:3.8595,  yMax:4.1603, step:0.05, dec:4, ld:4, vMax:3,   vStep:1,   vH:38.7, vDec:0, vU:'k', v0:false},
 {timeX:157, yMin:2.7782,  yMax:3.0794, step:0.05, dec:4, ld:4, vMax:20,  vStep:10,  vH:38.7, vDec:0, vU:'k', v0:false},
 {timeX:138, yMin:1.197,   yMax:2.8005, step:0.2,  dec:4, ld:4, vMax:40,  vStep:20,  vH:31.3, vDec:0, vU:'',  v0:false, daily:true},
 {timeX:128, yMin:4480.2,  yMax:4739.5, step:50,   dec:0, ld:2, vMax:20,  vStep:10,  vH:38.7, vDec:0, vU:'k', v0:true},
 {timeX:134, yMin:73.985,  yMax:90.005, step:2,    dec:2, ld:2, vMax:10,  vStep:5,   vH:38.7, vDec:0, vU:'k', v0:true}
];

const F = 'Lato, "Noto Sans", sans-serif';
const GREEN = '#1f8e3d', RED = '#dc2536', VGREEN = '#a5d6b1', VRED = '#f3a7af';
const GRIDC = '#d2d2d2', LBL = '#999999';
const EMPTY = ['-','-','-','-'];
const cats = Array.from({length: 52}, (_, k) => String(k));

const grids = [], xAxes = [], yAxes = [], series = [], graphics = [];
const txt = (x, y, text, font, fill, align, extra) => Object.assign({
  type: 'text', x: x, y: y, z: 10, silent: true,
  style: {text: text, font: font, fill: fill, align: align, verticalAlign: 'middle', textAlign: align, textVerticalAlign: 'middle'}
}, extra || {});

names.forEach((name, i) => {
  const c = cfg[i];
  const col = i % 4, row = Math.floor(i / 4);
  const ox = col * 340, oy = row * 235;
  const gi = grids.length;
  grids.push({left: ox + 40, top: oy + 34, width: 255, height: 188});
  grids.push({left: ox + 40, top: oy + 222 - c.vH, width: 255, height: c.vH});

  const lIdx = c.daily ? ethLabelIdx : hourLabelIdx;
  const lTxt = c.daily ? ethLabels : hourLabels;
  xAxes.push({
    type: 'category', gridIndex: gi, data: cats, boundaryGap: false,
    axisLine: {show: false}, axisTick: {show: false},
    axisLabel: {
      interval: (k) => lIdx.indexOf(k) >= 0,
      formatter: (v, k) => { const j = lIdx.indexOf(k); if (j < 0) return ''; return k === 0 ? '{f|' + lTxt[j] + '}' : lTxt[j]; },
      color: LBL, fontSize: 10, fontFamily: F, margin: 4,
      rich: {f: {padding: [0, 0, 0, 34], color: LBL, fontSize: 10, fontFamily: F}}
    },
    splitLine: {show: true, interval: c.daily ? 0 : (k) => hourGridIdx.indexOf(k) >= 0, lineStyle: {color: GRIDC, type: [3, 2], width: 1}}
  });
  xAxes.push({type: 'category', gridIndex: gi + 1, data: cats, boundaryGap: false, show: false});

  const step = c.step;
  yAxes.push({
    type: 'value', gridIndex: gi, position: 'right', min: c.yMin, max: c.yMax,
    minInterval: step, maxInterval: step,
    axisLine: {show: false}, axisTick: {show: false},
    axisLabel: {color: LBL, fontSize: 10, fontFamily: F, margin: 5,
      formatter: (v) => Math.abs(v / step - Math.round(v / step)) < 1e-6 ? v.toFixed(c.dec) : ''},
    splitLine: {show: true, showMinLine: false, showMaxLine: false, lineStyle: {color: GRIDC, type: [3, 2], width: 1}}
  });
  yAxes.push({
    type: 'value', gridIndex: gi + 1, position: 'left', min: 0, max: c.vMax, interval: c.vStep,
    axisLine: {show: false}, axisTick: {show: false}, splitLine: {show: false},
    axisLabel: {color: LBL, fontSize: 10, fontFamily: F, margin: 3, showMinLabel: false,
      formatter: (v) => v === 0 ? '' : v.toFixed(c.vDec) + c.vU}
  });

  const rows = candleSets[i];
  const data = [EMPTY].concat(rows.map(r => r ? r : EMPTY));
  series.push({
    type: 'candlestick', xAxisIndex: gi, yAxisIndex: gi, data: data, barWidth: 4, z: 3, silent: true,
    itemStyle: {color: GREEN, color0: RED, borderColor: GREEN, borderColor0: RED, borderWidth: 1}
  });
  // last-price tag placed at the last candle slot, label drawn to the right of the plot
  series.push({
    type: 'scatter', xAxisIndex: gi, yAxisIndex: gi, data: [[rows.length, lastPrices[i]]],
    symbol: 'rect', symbolSize: 1, itemStyle: {color: 'rgba(0,0,0,0)'}, clip: false, z: 6, silent: true,
    label: {show: true, position: 'right', distance: 4, formatter: lastPrices[i].toFixed(c.ld),
      color: '#000', fontSize: 10, fontFamily: F, backgroundColor: '#ffff00', padding: [1, 1, 0, 1]}
  });
  const vdata = volumeSets[i].map((v, k) => {
    let up;
    if (k === 0) up = c.v0; else { const r = rows[k - 1]; up = r ? r[1] >= r[0] : true; }
    return {value: v, itemStyle: {color: up ? VGREEN : VRED}};
  });
  series.push({type: 'bar', xAxisIndex: gi + 1, yAxisIndex: gi + 1, data: vdata, barWidth: 4, clip: false, z: 1, silent: true});

  const chUp = changes[i].charAt(0) === '+';
  graphics.push(txt(ox + 13, oy + 30, name, 'bold 21px ' + F, '#7b7b7b', 'left'));
  graphics.push(txt(ox + c.timeX, oy + 25, times[i], '10px ' + F, '#8a8a8a', 'center'));
  graphics.push(txt(ox + 268, oy + 25, changes[i], '10.5px ' + F, chUp ? '#1b9a3a' : '#d7192e', 'right'));
  graphics.push(txt(ox + 276, oy + 25, '\u00a9 finviz.com', '10px ' + F, '#86bdea', 'left'));
  graphics.push(txt(ox + 25, oy + 104, '1 HR', 'bold 11px ' + F, '#d9d9d9', 'center', {rotation: Math.PI / 2}));
});

const chart = echarts.init(document.getElementById('c'));
chart.setOption({
  animation: false,
  backgroundColor: '#ffffff',
  grid: grids, xAxis: xAxes, yAxis: yAxes, series: series,
  graphic: {elements: graphics}
});
</script></body></html>
